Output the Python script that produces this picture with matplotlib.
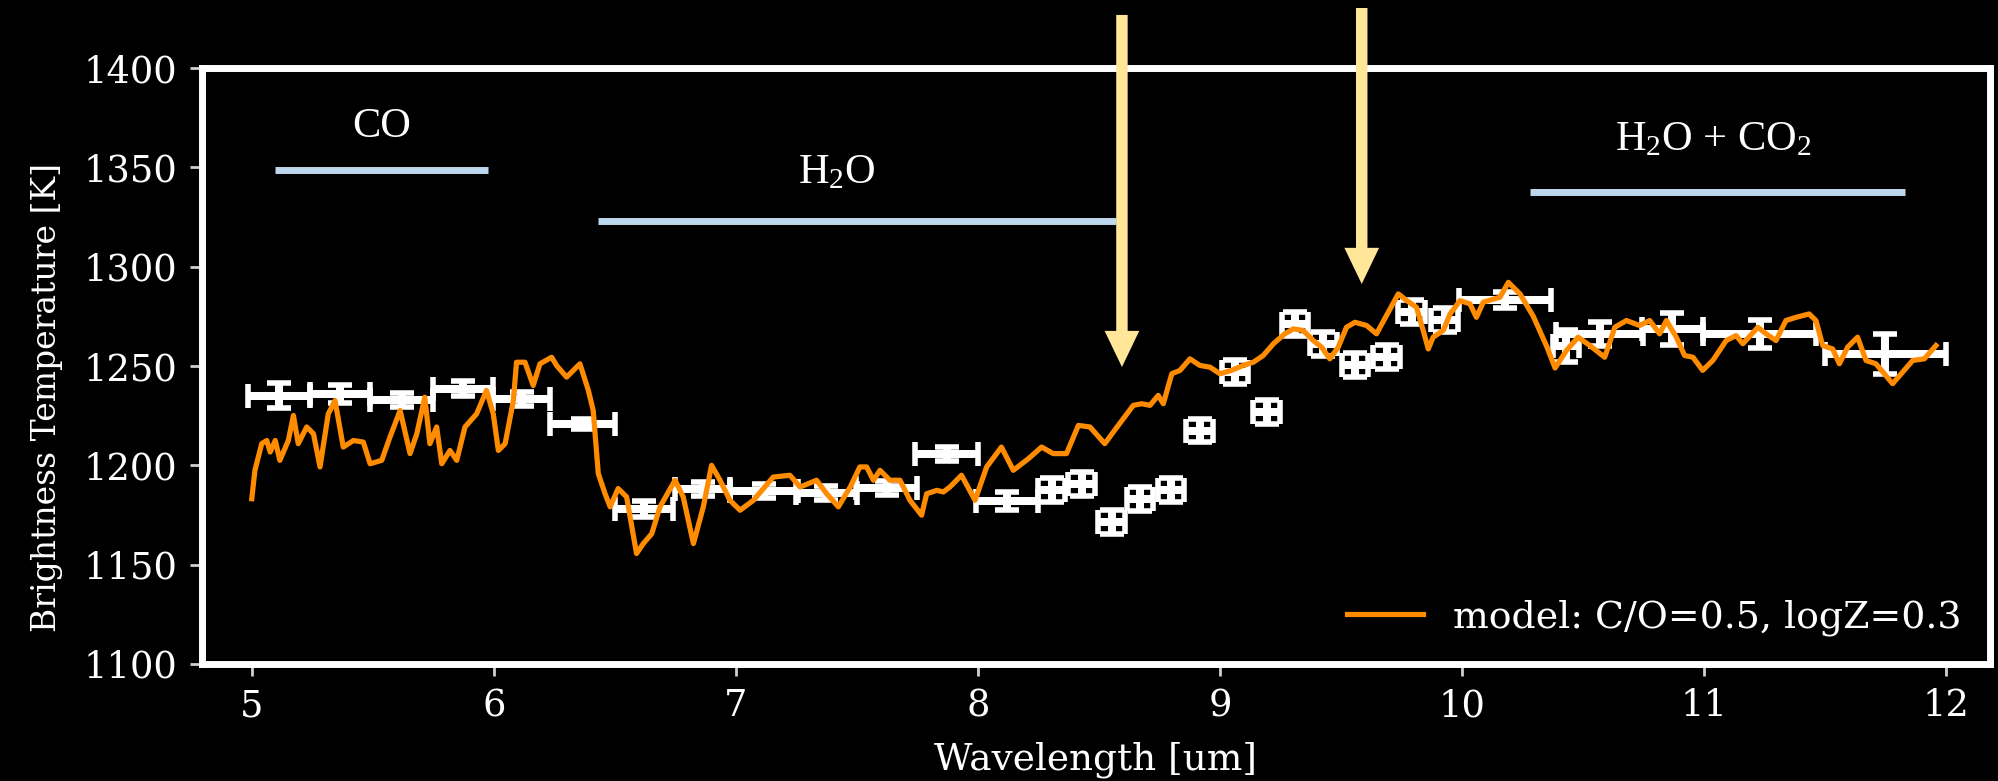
import matplotlib
matplotlib.use('Agg')
import matplotlib.pyplot as plt

# ---------------- data ----------------
obs_wavelength = [5.112, 5.364, 5.618, 5.872, 6.115, 6.366, 6.618, 6.862, 7.115, 7.374,
                  7.623, 7.871, 8.120, 8.304, 8.429, 8.552, 8.670, 8.797, 8.916, 9.062,
                  9.193, 9.310, 9.427, 9.558, 9.689, 9.792, 9.929, 10.180, 10.430, 10.570,
                  10.870, 11.230, 11.750]
obs_wavelength_err = [0.127, 0.125, 0.130, 0.125, 0.118, 0.135, 0.120, 0.115, 0.140, 0.125,
                      0.125, 0.130, 0.130, 0.055, 0.055, 0.055, 0.055, 0.055, 0.055, 0.055,
                      0.055, 0.055, 0.055, 0.055, 0.055, 0.055, 0.055, 0.190, 0.055, 0.180,
                      0.125, 0.235, 0.250]
obs_temperature = [1235.0, 1236.0, 1233.0, 1238.5, 1233.5, 1221.0, 1178.0, 1188.0, 1187.0, 1186.0,
                   1188.5, 1205.5, 1182.0, 1187.5, 1190.5, 1171.5, 1183.0, 1187.5, 1217.5, 1247.0,
                   1227.0, 1271.0, 1261.0, 1250.5, 1254.5, 1277.0, 1273.0, 1283.0, 1260.0, 1266.0,
                   1268.5, 1266.0, 1256.0]
obs_temperature_err = [6.3, 4.6, 3.5, 3.8, 3.4, 2.5, 4.0, 3.5, 3.5, 3.5,
                       3.5, 3.5, 4.5, 6.0, 6.0, 6.0, 6.0, 6.0, 6.0, 6.0,
                       6.0, 6.0, 6.0, 6.0, 6.0, 6.0, 6.0, 4.0, 8.0, 6.0,
                       8.0, 7.0, 10.0]

model_wavelength = [
    4.999, 5.012, 5.040, 5.061, 5.075, 5.096, 5.115, 5.150, 5.171, 5.191,
    5.226, 5.254, 5.281, 5.315, 5.343, 5.377, 5.419, 5.460, 5.488, 5.536,
    5.570, 5.612, 5.653, 5.681, 5.714, 5.735, 5.763, 5.784, 5.818, 5.846,
    5.880, 5.928, 5.969, 5.997, 6.018, 6.046, 6.080, 6.093, 6.128, 6.162,
    6.190, 6.238, 6.259, 6.300, 6.355, 6.390, 6.410, 6.431, 6.459, 6.480,
    6.513, 6.548, 6.589, 6.617, 6.652, 6.686, 6.748, 6.782, 6.824, 6.865,
    6.899, 6.934, 6.975, 7.017, 7.072, 7.154, 7.223, 7.265, 7.333, 7.375,
    7.423, 7.472, 7.512, 7.540, 7.568, 7.595, 7.636, 7.678, 7.719, 7.767,
    7.788, 7.830, 7.857, 7.884, 7.932, 7.988, 8.036, 8.097, 8.146, 8.208,
    8.263, 8.311, 8.366, 8.415, 8.463, 8.524, 8.573, 8.642, 8.677, 8.711,
    8.745, 8.766, 8.801, 8.835, 8.876, 8.917, 8.959, 9.000, 9.048, 9.096,
    9.138, 9.179, 9.221, 9.268, 9.303, 9.344, 9.386, 9.420, 9.454, 9.489,
    9.523, 9.558, 9.606, 9.647, 9.688, 9.737, 9.772, 9.812, 9.840, 9.861,
    9.881, 9.923, 9.951, 9.992, 10.033, 10.060, 10.088, 10.157, 10.192, 10.240,
    10.295, 10.350, 10.385, 10.432, 10.480, 10.529, 10.590, 10.632, 10.680, 10.734,
    10.776, 10.817, 10.845, 10.886, 10.920, 10.955, 10.995, 11.037, 11.092, 11.133,
    11.161, 11.223, 11.257, 11.298, 11.339, 11.381, 11.435, 11.463, 11.491, 11.532,
    11.560, 11.594, 11.635, 11.670, 11.711, 11.780, 11.863, 11.911, 11.959]
model_temperature = [
    1183.2, 1197.5, 1210.9, 1212.5, 1206.7, 1212.5, 1202.5, 1212.5, 1225.1, 1210.9,
    1219.3, 1215.9, 1199.2, 1225.9, 1232.6, 1209.2, 1212.5, 1211.7, 1200.8, 1202.5,
    1214.2, 1227.6, 1205.9, 1215.9, 1234.3, 1210.9, 1219.3, 1200.8, 1207.5, 1202.5,
    1219.3, 1225.9, 1237.7, 1225.9, 1207.5, 1210.9, 1232.6, 1251.9, 1251.9, 1240.2,
    1251.1, 1254.4, 1250.2, 1244.4, 1251.1, 1237.7, 1227.6, 1195.8, 1185.7, 1179.1,
    1188.3, 1184.1, 1155.6, 1160.6, 1165.6, 1179.1, 1192.5, 1184.1, 1160.6, 1179.1,
    1200.0, 1192.5, 1182.4, 1177.4, 1182.4, 1194.1, 1195.0, 1189.1, 1192.5, 1185.7,
    1179.1, 1189.1, 1199.2, 1199.2, 1192.5, 1197.5, 1192.5, 1192.5, 1182.4, 1174.9,
    1185.7, 1187.4, 1186.6, 1189.1, 1195.0, 1182.4, 1199.2, 1209.2, 1197.5, 1203.3,
    1209.2, 1205.9, 1205.9, 1220.1, 1219.3, 1210.9, 1219.0, 1230.2, 1231.0, 1230.2,
    1235.2, 1231.0, 1246.1, 1247.8, 1253.6, 1250.3, 1249.4, 1246.1, 1247.8, 1250.3,
    1251.9, 1255.3, 1261.2, 1266.2, 1268.7, 1267.9, 1262.8, 1259.5, 1253.6, 1259.5,
    1269.5, 1272.0, 1270.4, 1266.2, 1275.4, 1286.3, 1282.9, 1279.6, 1267.9, 1258.6,
    1264.5, 1267.9, 1276.2, 1282.9, 1281.3, 1274.5, 1282.1, 1284.6, 1292.1, 1286.3,
    1275.0, 1260.0, 1249.0, 1257.8, 1264.5, 1260.3, 1254.4, 1269.5, 1272.9, 1270.4,
    1272.9, 1266.2, 1272.9, 1264.5, 1255.3, 1254.4, 1247.8, 1252.8, 1262.8, 1265.3,
    1261.2, 1269.5, 1266.2, 1262.8, 1272.9, 1274.5, 1276.2, 1272.9, 1260.3, 1258.6,
    1251.1, 1259.5, 1264.5, 1252.8, 1251.1, 1241.1, 1252.8, 1253.6, 1260.3]
model_label = 'model: C/O=0.5, logZ=0.3'

x_ticks = [5, 6, 7, 8, 9, 10, 11, 12]
y_ticks = [1100, 1150, 1200, 1250, 1300, 1350, 1400]
x_label = 'Wavelength [um]'
y_label = 'Brightness Temperature [K]'

band_labels = ['CO', r'H$_2$O', r'H$_2$O + CO$_2$']
band_starts = [5.095, 6.43, 10.28]
band_ends = [5.974, 8.57, 11.83]
band_levels = [1348.5, 1323.0, 1337.7]
band_label_x = [5.536, 7.417, 11.04]
band_label_y = [1365.4, 1342.1, 1358.7]

arrow_x = [8.595, 9.586]
arrow_tail = [1426.7, 1430.2]
arrow_tip = [1249.5, 1291.3]

# ---------------- styling ----------------
plt.rcParams['font.family'] = ['DejaVu Serif']
plt.rcParams['mathtext.fontset'] = 'custom'
plt.rcParams['mathtext.rm'] = 'Liberation Serif'
plt.rcParams['mathtext.it'] = 'Liberation Serif:italic'
plt.rcParams['mathtext.bf'] = 'Liberation Serif:bold'

fig = plt.figure(figsize=(7.992, 3.124), dpi=250, facecolor='black')
ax = fig.add_axes([0.10095, 0.14981, 0.8950, 0.76312])
ax.set_facecolor('black')

ax.errorbar(obs_wavelength, obs_temperature, xerr=obs_wavelength_err,
            yerr=obs_temperature_err, fmt='none',
            ecolor='white', elinewidth=2.3, capsize=3.5, capthick=1.6, zorder=2)
ax.plot(model_wavelength, model_temperature, color='darkorange', lw=1.5,
        label=model_label, zorder=3)

ax.set_xlim(4.792, 12.182)
ax.set_ylim(1100, 1400)
ax.set_xticks(x_ticks)
ax.set_yticks(y_ticks)
ax.set_xlabel(x_label, fontsize=10.8, color='white', labelpad=5)
ax.set_ylabel(y_label, fontsize=9.5, color='white', labelpad=6)
ax.yaxis.label.set_y(0.447)
ax.tick_params(colors='#d0d0d0', labelcolor='white', labelsize=10.6)
for sp in ax.spines.values():
    sp.set_color('white')
    sp.set_linewidth(2)

leg = ax.legend(loc='lower right', frameon=False, fontsize=10.9,
                borderaxespad=0.35)
for t in leg.get_texts():
    t.set_color('white')

# band annotations
for lab, x0, x1, lev, tx, ty in zip(band_labels, band_starts, band_ends, band_levels,
                                     band_label_x, band_label_y):
    ax.plot([x0, x1], [lev, lev], color='#BDD7EE', lw=2.0, solid_capstyle='butt',
            clip_on=False, zorder=4)
    ax.text(tx, ty, lab, color='white', fontsize=12.2, family='Liberation Serif',
            ha='center', va='baseline', zorder=5)

for x, t0, t1 in zip(arrow_x, arrow_tail, arrow_tip):
    ax.annotate('', xy=(x, t1), xytext=(x, t0),
                arrowprops=dict(width=3.3, headwidth=10, headlength=10.4,
                                shrink=0.0, color='#FFE699', lw=0),
                annotation_clip=False, zorder=6)

fig.savefig('out.png', dpi=250, facecolor='black')
